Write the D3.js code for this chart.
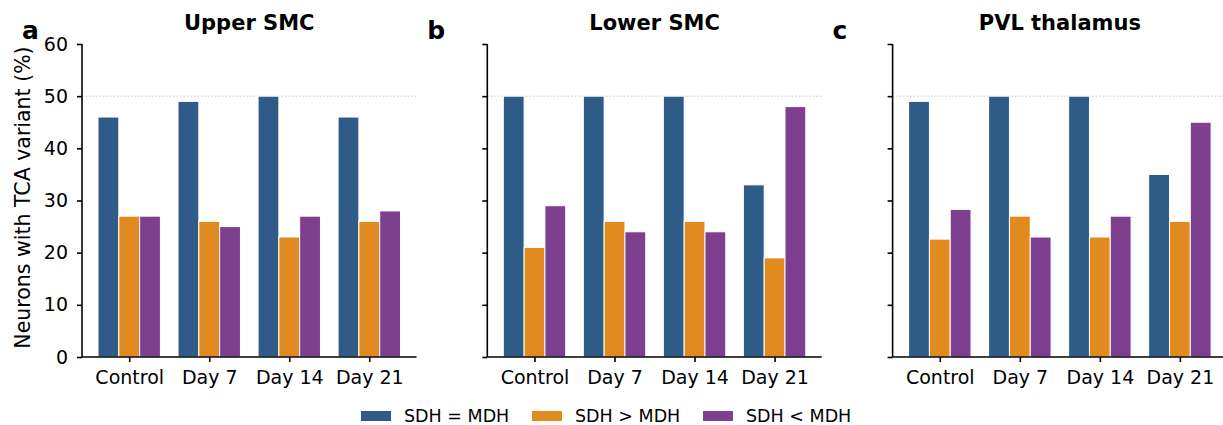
<!DOCTYPE html>
<html>
<head>
<meta charset="utf-8">
<script src="https://cdn.jsdelivr.net/npm/d3@7"></script>
<style>
  body { margin: 0; background: #fff; }
  text { font-family: "DejaVu Sans", sans-serif; fill: #000; }
</style>
</head>
<body>
<div id="graph"></div>
<script>
// data
var categories   = ["Control", "Day 7", "Day 14", "Day 21"]
var regions      = ["Upper SMC", "Lower SMC", "PVL thalamus"]
var panelLetters = ["a", "b", "c"]
var seriesNames  = ["SDH = MDH", "SDH > MDH", "SDH < MDH"]
var seriesColors = ["#2E5B88", "#E08A1F", "#7E3F8E"]
var yTicks       = [0, 10, 20, 30, 40, 50, 60]

// rows: SDH = MDH, SDH > MDH, SDH < MDH
var upperSMC    = [[46, 49, 50, 46], [27, 26, 23, 26], [27, 25, 27, 28]]
var lowerSMC    = [[50, 50, 50, 33], [21, 26, 26, 19], [29, 24, 24, 48]]
var pvlThalamus = [[49, 50, 50, 35], [22.6, 27, 23, 26], [28.3, 23, 27, 45]]
var panelValues = [upperSMC, lowerSMC, pvlThalamus]

var width = 1223, height = 425
var svg = d3.select("#graph").append("svg")
            .attr("width", width).attr("height", height)

var plotTop = 44, plotBottom = 357
var panelLeft0 = 82, panelStep = 405.3, panelW = 334.5
var barW = 0.26

var y = d3.scaleLinear().domain([0, 60]).range([plotBottom, plotTop])

panelValues.forEach(function(vals, p){
    var left = panelLeft0 + panelStep * p
    var x = d3.scaleLinear().domain([-0.59, 3.59]).range([left, left + panelW])
    var g = svg.append("g").classed("panel", true)

    // dotted reference at 50 %
    g.append("line")
     .attr("x1", left).attr("x2", left + panelW)
     .attr("y1", y(50)).attr("y2", y(50))
     .attr("stroke", "#c8c8c8").attr("stroke-width", 1)
     .attr("stroke-dasharray", "1.5,2")

    // bars
    seriesNames.forEach(function(name, s){
        g.selectAll(".bar-" + s)
         .data(vals[s])
         .enter().append("rect")
         .attr("class", "bar-" + s)
         .attr("x", function(d, i){ return x(i + (s - 1) * barW - barW / 2) })
         .attr("width", function(){ return x(barW) - x(0) })
         .attr("y", function(d){ return y(d) })
         .attr("height", function(d){ return y(0) - y(d) })
         .attr("fill", seriesColors[s])
         .attr("stroke", "#fff")
         .attr("stroke-width", 1)
    })

    // axes
    var yAxis = d3.axisLeft(y).tickValues(yTicks).tickSize(5).tickPadding(9)
    if (p > 0) yAxis.tickFormat("")
    var ya = g.append("g").attr("transform", "translate(" + left + ",0)").call(yAxis)

    var xAxis = d3.axisBottom(x).tickValues(d3.range(categories.length))
                  .tickFormat(function(d){ return categories[d] })
                  .tickSize(5).tickPadding(9)
    var xa = g.append("g").attr("transform", "translate(0," + plotBottom + ")").call(xAxis)

    ;[ya, xa].forEach(function(a){
        a.select(".domain").attr("stroke", "#000").attr("stroke-width", 1.6)
        a.selectAll(".tick line").attr("stroke", "#000").attr("stroke-width", 1.6)
        a.selectAll(".tick text").attr("font-size", "19px").attr("fill", "#000")
         .style("font-family", "DejaVu Sans, sans-serif")
    })
    // matplotlib-style spine: no end caps
    ya.select(".domain").attr("d", "M0," + plotTop + "V" + plotBottom)
    xa.select(".domain").attr("d", "M" + left + ",0H" + (left + panelW))

    // title and panel letter
    g.append("text")
     .attr("x", left + panelW / 2).attr("y", 30)
     .attr("text-anchor", "middle")
     .attr("font-size", "21px").attr("font-weight", "bold")
     .text(regions[p])

    g.append("text")
     .attr("x", 22 + panelStep * p).attr("y", 39)
     .attr("font-size", "25px").attr("font-weight", "bold")
     .text(panelLetters[p])
})

// y label
svg.append("text")
   .attr("transform", "translate(30," + ((plotTop + plotBottom) / 2 - 3) + ") rotate(-90)")
   .attr("text-anchor", "middle")
   .attr("font-size", "20.5px")
   .text("Neurons with TCA variant (%)")

// legend
var legendX = [361, 532, 703]
var legend = svg.append("g").classed("legend", true)
seriesNames.forEach(function(name, s){
    legend.append("rect")
          .attr("x", legendX[s]).attr("y", 411)
          .attr("width", 30).attr("height", 10)
          .attr("fill", seriesColors[s])
    legend.append("text")
          .attr("x", legendX[s] + 43).attr("y", 422)
          .attr("font-size", "17.5px")
          .text(name)
})
</script>
</body>
</html>
